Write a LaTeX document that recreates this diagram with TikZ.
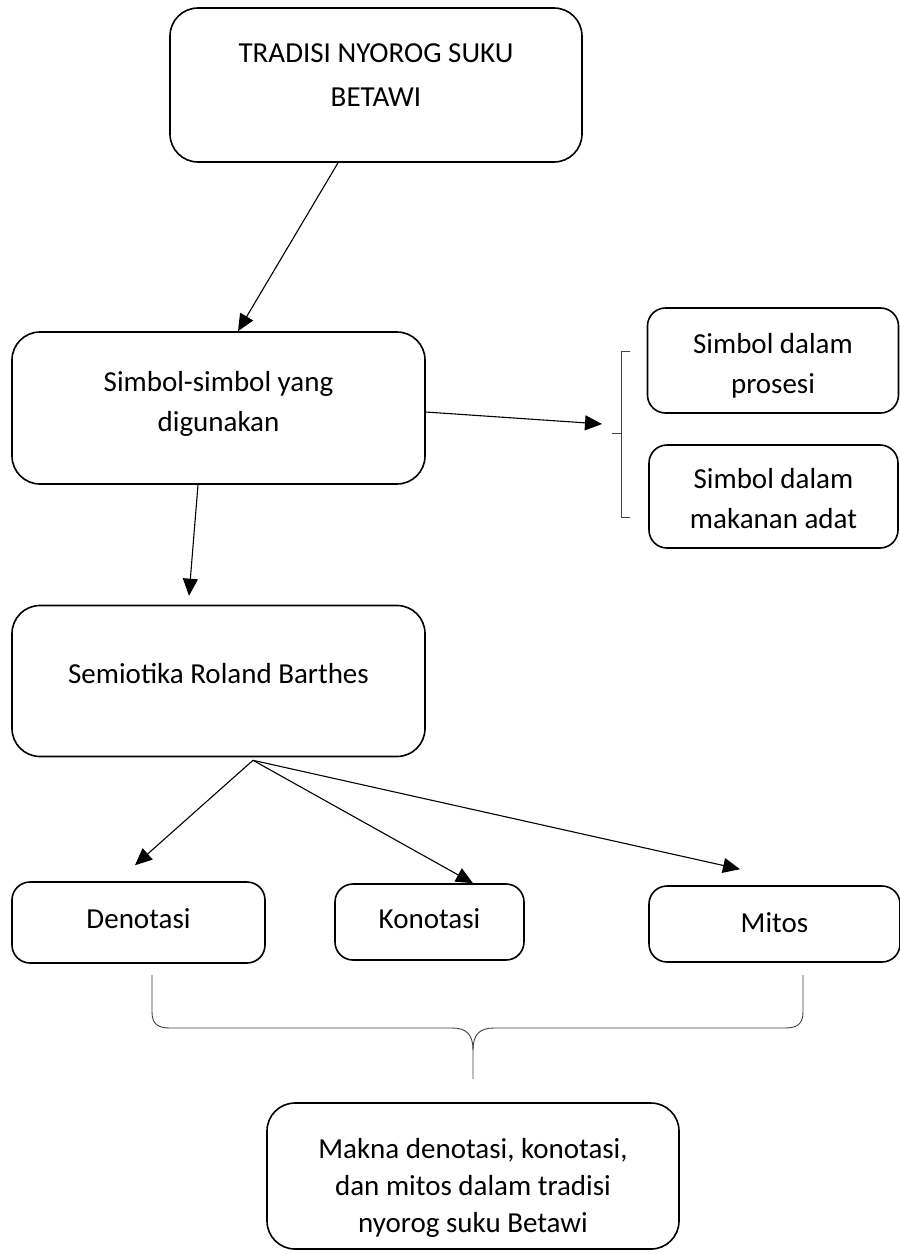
\documentclass[tikz,border=0pt]{standalone}
\usepackage{fontspec}
\setmainfont{Carlito}
\usetikzlibrary{shapes,arrows.meta}
\tikzstyle{block} = [rectangle, draw, line width=1.6pt, rounded corners=28pt,
    inner sep=0pt, font=\fontsize{29}{40}\selectfont]
\tikzstyle{smallblock} = [block, rounded corners=18pt]
\tikzstyle{line} = [draw, line width=1.1pt, -{Triangle[length=17pt,width=15pt]}]
\tikzstyle{brace} = [draw, line width=0.9pt, black!75]
% text lines of a box, raised by #1
\newcommand{\boxtext}[2]{\raisebox{#1}[\height][\depth]{\begin{tabular}{@{}c@{}}#2\end{tabular}}}

\begin{document}
\begin{tikzpicture}[x=1pt, y=-1pt]
    \useasboundingbox (0,0) rectangle (900,1254);
    % Place nodes
    \node [block, minimum width=412pt, minimum height=154pt, font=\fontsize{29}{44}\selectfont] (tradisi) at (376,85) {\boxtext{9pt}{TRADISI NYOROG SUKU\\BETAWI}};
    \node [block, minimum width=413pt, minimum height=152pt] (simbol) at (218.5,408) {\boxtext{5pt}{Simbol-simbol yang\\digunakan}};
    \node [smallblock, minimum width=251pt, minimum height=105pt] (prosesi) at (773,360.5) {\boxtext{-5pt}{Simbol dalam\\prosesi}};
    \node [smallblock, minimum width=249pt, minimum height=103pt] (makanan) at (773.5,496.5) {\boxtext{-4pt}{Simbol dalam\\makanan adat}};
    \node [block, minimum width=413pt, minimum height=151pt] (semiotika) at (218.5,681) {\boxtext{6pt}{Semiotika Roland Barthes}};
    \node [smallblock, minimum width=253pt, minimum height=81pt] (denotasi) at (138.5,922.5) {\boxtext{2pt}{Denotasi}};
    \node [smallblock, minimum width=189pt, minimum height=76pt] (konotasi) at (429.5,922) {\boxtext{2pt}{Konotasi}};
    \node [smallblock, minimum width=251pt, minimum height=76pt] (mitos) at (774.5,924) {\boxtext{0pt}{Mitos}};
    \node [block, minimum width=412pt, minimum height=146pt, font=\fontsize{29}{37}\selectfont] (makna) at (473,1176) {\boxtext{-12pt}{Makna denotasi, konotasi,\\dan mitos dalam tradisi\\nyorog suku Betawi}};
    \coordinate (simtip) at (602,424);
    \coordinate (fan) at ([xshift=34.5pt,yshift=-3pt]semiotika.south);
    % Draw braces
    \draw [brace] (630,351) -- (621,351) -- (621,517) -- (630,517);
    \draw [brace] (621,433) -- (612,433);
    \draw [brace] (152,975) -- (152,1012) .. controls (152,1024) and (158,1028) .. (170,1028)
        -- (452,1028) .. controls (466,1028) and (473,1034) .. (473,1050) -- (473,1079);
    \draw [brace] (803,975) -- (803,1012) .. controls (803,1024) and (797,1028) .. (785,1028)
        -- (494,1028) .. controls (480,1028) and (473,1034) .. (473,1050);
    % Draw edges
    \path [line] ([xshift=-38pt]tradisi.south) -- ([xshift=19.5pt]simbol.north);
    \path [line] ([yshift=-4pt]simbol.east) -- (simtip);
    \path [line] ([xshift=-20.5pt]simbol.south) -- ([xshift=-29.5pt,yshift=9pt]semiotika.north);
    \path [line] (fan) -- ([xshift=-3.5pt,yshift=16pt]denotasi.north);
    \path [line] (fan) -- ([xshift=43.5pt]konotasi.north);
    \path [line] (fan) -- ([xshift=-34.5pt,yshift=16pt]mitos.north);
\end{tikzpicture}
\end{document}
